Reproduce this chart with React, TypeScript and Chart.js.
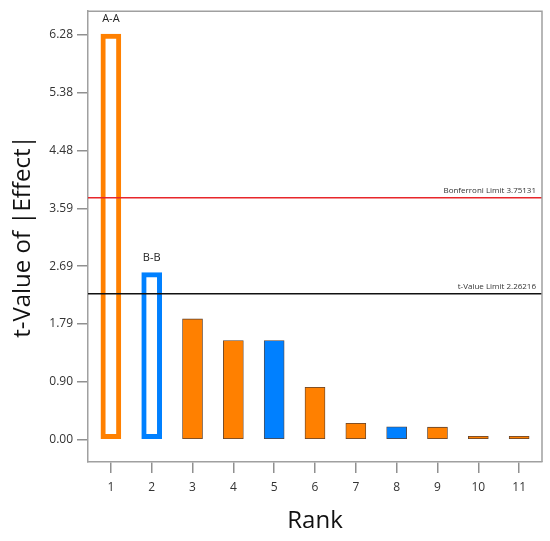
import React, { useEffect, useRef } from "react";
import { Chart, registerables } from "chart.js";

Chart.register(...registerables);

const ranks = [1, 2, 3, 4, 5, 6, 7, 8, 9, 10, 11];
const tValues = [6.29, 2.59, 1.87, 1.535, 1.535, 0.81, 0.25, 0.195, 0.19, 0.05, 0.05];
const barKinds = ["orange", "blue", "orange", "orange", "blue", "orange", "orange", "blue", "orange", "orange", "orange"];
const hollow = [true, true, false, false, false, false, false, false, false, false, false];
const barNames = ["A-A", "B-B", "", "", "", "", "", "", "", "", ""];
const yTickValues = [0, 0.8966, 1.7932, 2.6898, 3.5864, 4.483, 5.3796, 6.2762];
const yTickLabels = ["0.00", "0.90", "1.79", "2.69", "3.59", "4.48", "5.38", "6.28"];
const bonferroniLimit = 3.75131;
const tValueLimit = 2.26216;

const ORANGE = "#ff8000";
const BLUE = "#0080ff";
const FONT = "'Open Sans', 'Noto Sans', sans-serif";

export default function App() {
  const ref = useRef<HTMLCanvasElement | null>(null);

  useEffect(() => {
    if (!ref.current) return;
    const fill = (k: string) => (k === "orange" ? ORANGE : BLUE);

    const overlay = {
      id: "overlay",
      afterDatasetsDraw(chart: any) {
        const { ctx, chartArea, scales } = chart;
        const x = scales.x;
        const y = scales.y;
        ctx.save();
        const lines = [
          { v: bonferroniLimit, color: "#e8262b", label: "Bonferroni Limit " + bonferroniLimit.toFixed(5) },
          { v: tValueLimit, color: "#111111", label: "t-Value Limit " + tValueLimit.toFixed(5) },
        ];
        for (const l of lines) {
          const py = y.getPixelForValue(l.v);
          ctx.strokeStyle = l.color;
          ctx.lineWidth = 1.5;
          ctx.beginPath();
          ctx.moveTo(chartArea.left, py);
          ctx.lineTo(chartArea.right, py);
          ctx.stroke();
          ctx.fillStyle = "#333";
          ctx.font = "8px " + FONT;
          ctx.textAlign = "right";
          ctx.textBaseline = "alphabetic";
          ctx.fillText(l.label, chartArea.right - 6, py - 5);
        }
        ctx.font = "11px " + FONT;
        ctx.textAlign = "center";
        ctx.textBaseline = "alphabetic";
        ctx.fillStyle = "#222";
        ranks.forEach((r, i) => {
          if (!barNames[i]) return;
          ctx.fillText(barNames[i], x.getPixelForValue(r), y.getPixelForValue(tValues[i]) - 12);
        });
        ctx.fillStyle = "#111";
        ctx.font = "24px " + FONT;
        ctx.textAlign = "center";
        ctx.textBaseline = "middle";
        ctx.fillText("Rank", (chartArea.left + chartArea.right) / 2, 521);
        ctx.translate(23, (chartArea.top + chartArea.bottom) / 2);
        ctx.rotate(-Math.PI / 2);
        ctx.fillText("t-Value of |Effect|", 0, 0);
        ctx.restore();
        ctx.save();
        ctx.strokeStyle = "#a0a0a0";
        ctx.lineWidth = 1.5;
        ctx.beginPath();
        ctx.moveTo(chartArea.left, chartArea.top);
        ctx.lineTo(chartArea.right, chartArea.top);
        ctx.lineTo(chartArea.right, chartArea.bottom);
        ctx.stroke();
        ctx.restore();
      },
    };

    const chart = new Chart(ref.current, {
      type: "bar",
      data: {
        datasets: [
          {
            data: ranks.map((r, i) => ({ x: r, y: tValues[i] })),
            backgroundColor: hollow.map((h, i) => (h ? "#ffffff" : fill(barKinds[i]))),
            borderColor: hollow.map((h, i) => (h ? fill(barKinds[i]) : "#5a4030")),
            borderWidth: hollow.map((h) => (h ? 5 : 0.8)),
            borderSkipped: false,
            barThickness: 20,
          } as any,
        ],
      },
      plugins: [overlay],
      options: {
        animation: false,
        responsive: false,
        maintainAspectRatio: false,
        layout: { padding: { top: 8, right: 8, left: 0, bottom: 0 } },
        plugins: { legend: { display: false }, tooltip: { enabled: false } },
        scales: {
          x: {
            type: "linear",
            offset: false,
            min: 0.44,
            max: 11.56,
            afterBuildTicks: (s: any) => {
              s.ticks = ranks.map((r) => ({ value: r }));
            },
            afterFit: (s: any) => {
              s.height = 79;
            },
            grid: {
              offset: false,
              drawOnChartArea: false,
              drawTicks: true,
              tickLength: 11,
              color: "#909090",
              lineWidth: 1.5,
            },
            border: { display: true, color: "#a0a0a0", width: 1.5 },
            ticks: {
              padding: 7,
              color: "#333",
              font: { family: FONT, size: 12 },
              callback: (v: any) => String(v),
            },
          },
          y: {
            type: "linear",
            min: -0.35,
            max: 6.646,
            afterBuildTicks: (s: any) => {
              s.ticks = yTickValues.map((v) => ({ value: v }));
            },
            afterFit: (s: any) => {
              s.width = 88;
            },
            grid: {
              drawOnChartArea: false,
              drawTicks: true,
              tickLength: 11,
              color: "#909090",
              lineWidth: 1.5,
            },
            border: { display: true, color: "#a0a0a0", width: 1.5 },
            ticks: {
              padding: 4,
              color: "#333",
              font: { family: FONT, size: 12 },
              callback: (_v: any, i: number) => yTickLabels[i],
            },
          },
        },
      } as any,
    });
    return () => chart.destroy();
  }, []);

  return (
    <div style={{ position: "absolute", left: 0, top: 0, width: 550, height: 541, background: "#fff" }}>
      <canvas ref={ref} width={550} height={541} style={{ width: 550, height: 541 }} />
    </div>
  );
}
